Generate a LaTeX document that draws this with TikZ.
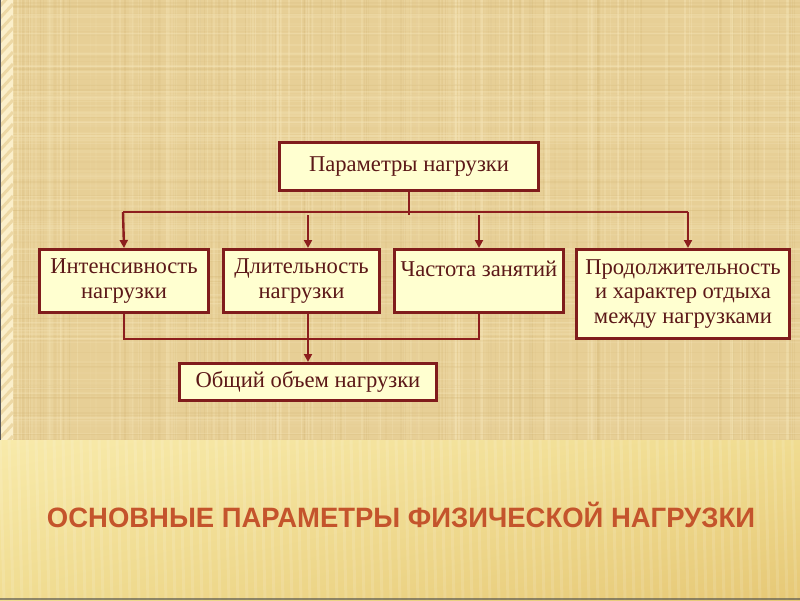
\documentclass[tikz,border=0pt]{standalone}
\usepackage{fontspec}
\setmainfont{Liberation Serif}
\newfontfamily\titlefont{Liberation Sans}
\usetikzlibrary{arrows.meta,calc,shadings}
\definecolor{bgtan}{RGB}{231,207,150}
\definecolor{bglight}{RGB}{246,230,185}
\definecolor{bgdark}{RGB}{208,178,112}
\definecolor{stripcream}{RGB}{251,239,202}
\definecolor{bandL}{RGB}{248,234,170}
\definecolor{bandA}{RGB}{240,220,145}
\definecolor{bandB}{RGB}{230,200,118}
\definecolor{boxred}{RGB}{128,28,28}
\definecolor{boxfill}{RGB}{255,255,208}
\definecolor{txtred}{RGB}{92,24,24}
\definecolor{connred}{RGB}{140,30,30}
\definecolor{titlecol}{RGB}{196,84,44}
\tikzset{
  pbox/.style={draw=boxred, line width=3pt, fill=boxfill, inner sep=0pt,
    align=center, anchor=north west, text=txtred,
    font=\fontsize{22.6}{24.5}\selectfont},
  conn/.style={draw=connred, line width=2.4pt},
  arr/.style={-{Triangle[length=8pt,width=8pt]}}
}
\begin{document}
\begin{tikzpicture}[x=1pt,y=-1pt]
\useasboundingbox (0,0) rectangle (800,600);
% background
\fill[bgtan] (0,0) rectangle (800,440);
\pgfmathsetseed{11}
\foreach \i in {1,...,160}{
  \pgfmathsetmacro\xx{13+787*rnd}
  \pgfmathsetmacro\op{0.10+0.30*rnd}
  \pgfmathsetmacro\lw{0.6+2.5*rnd}
  \draw[bglight, opacity=\op, line width=\lw pt] (\xx,0) -- (\xx,440);
}
\foreach \i in {1,...,100}{
  \pgfmathsetmacro\xx{13+787*rnd}
  \pgfmathsetmacro\op{0.06+0.18*rnd}
  \pgfmathsetmacro\lw{0.5+2*rnd}
  \draw[bgdark, opacity=\op, line width=\lw pt] (\xx,0) -- (\xx,440);
}
\foreach \i in {1,...,120}{
  \pgfmathsetmacro\yy{440*rnd}
  \pgfmathsetmacro\op{0.08+0.25*rnd}
  \pgfmathsetmacro\lw{0.5+2*rnd}
  \draw[bglight, opacity=\op, line width=\lw pt] (13,\yy) -- (800,\yy);
}
\foreach \i in {1,...,60}{
  \pgfmathsetmacro\yy{440*rnd}
  \pgfmathsetmacro\op{0.05+0.15*rnd}
  \pgfmathsetmacro\lw{0.5+1.5*rnd}
  \draw[bgdark, opacity=\op, line width=\lw pt] (13,\yy) -- (800,\yy);
}
% left strip
\fill[stripcream] (0,0) rectangle (13,440);
\begin{scope}
\clip (0,0) rectangle (13,440);
\foreach \k in {-20,-8,...,460}{
  \draw[bgtan!70!stripcream, line width=3pt] (0,\k+14) -- (13,\k);
}
\end{scope}
\draw[gray!70!black, line width=1pt] (0.5,0) -- (0.5,440);
% bottom band
\shade[upper left=bandL, upper right=bandA, lower left=bandA, lower right=bandB] (0,440) rectangle (800,600);
\foreach \x in {0,9,...,800}{
  \draw[white, opacity=0.12, line width=3pt] (\x,440) -- (\x+4,600);
}
\draw[gray!60!black, opacity=0.6, line width=1.5pt] (0,599) -- (800,599);
% boxes
\node[pbox, minimum width=259pt, minimum height=48pt] (top) at (278,141) {Параметры нагрузки};
\node[pbox, minimum width=169pt, minimum height=63pt] (b1) at (38,248) {Интенсивность\\нагрузки};
\node[pbox, minimum width=156pt, minimum height=63pt] (b2) at (222,248) {Длительность\\нагрузки};
\node[pbox, minimum width=169pt, minimum height=63pt] (b3) at (393,248) {Частота занятий\\\mbox{}};
\node[pbox, minimum width=213pt, minimum height=89pt] (b4) at (575,248) {Продолжительность\\и характер отдыха\\между нагрузками};
\node[pbox, minimum width=257pt, minimum height=37pt] (bot) at (178,362) {Общий объем нагрузки};
% connectors
\path (top.south) ++(0,23) coordinate (bus);
\coordinate (busL) at (123,212);
\coordinate (busR) at (688,212);
\draw[conn] (top.south) -- (bus);
\draw[conn] (busL) -- (busR);
\draw[conn,arr] (busL) -- (b1.north);
\draw[conn,arr] (bus -| bot.north) -- (b2.north -| bot.north);
\draw[conn,arr] (bus -| b3.north) -- (b3.north);
\draw[conn,arr] (busR) -- (b4.north -| busR);
\path (b1.south) ++(0,25) coordinate (lowL);
\draw[conn] (b1.south) -- (lowL) -| (b3.south);
\draw[conn,arr] (b2.south -| bot.north) -- (bot.north);
% title
\node[text=titlecol, font=\titlefont\bfseries\fontsize{28}{30}\selectfont, inner sep=0pt] (title) at (401,515)
  {\resizebox{708pt}{\height}{ОСНОВНЫЕ ПАРАМЕТРЫ ФИЗИЧЕСКОЙ НАГРУЗКИ}};
\end{tikzpicture}
\end{document}
